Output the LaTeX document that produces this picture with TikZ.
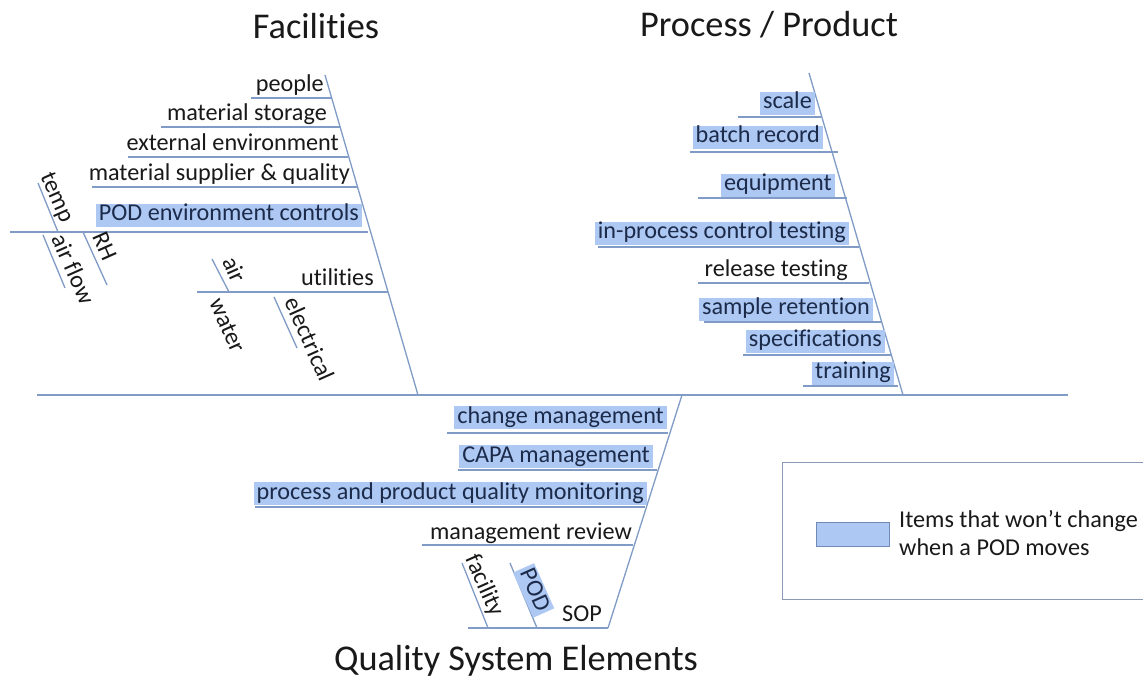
\documentclass[tikz,border=0pt]{standalone}
\usepackage{fontspec}
\setmainfont{Carlito}[Ligatures=NoCommon]
\usepackage{tikz}
\definecolor{boneblue}{HTML}{7F9BC6}
\definecolor{keepblue}{HTML}{ADC8F3}
\definecolor{keepedge}{HTML}{6F8BB5}
\definecolor{keeptext}{HTML}{1C2B4A}
\definecolor{framegray}{HTML}{8A9AB5}
\usetikzlibrary{positioning}
\tikzstyle{bone} = [draw=boneblue, line width=1.3pt]

\begin{document}
\begin{tikzpicture}[x=1pt, y=-1pt]
                    \tikzstyle{every node}=[font=\fontsize{24.2}{27.5}\selectfont, text=black!90]
                    \tikzstyle{item} = [text height=16.5pt, text depth=5pt, inner xsep=3pt, inner ysep=0.8pt, anchor=south east]
                    \tikzstyle{keep} = [item, fill=keepblue, text=keeptext]
                    \tikzstyle{twig} = [item, rotate=-66]
                    \tikzstyle{title} = [font=\fontsize{36.3}{40}\selectfont, anchor=base]

                    \useasboundingbox[fill=white] (0,0) rectangle (1143,684);

                    % spine and the three heads
                    \coordinate (tail) at (37,395);
                    \coordinate (head) at (1068,395);
                    \coordinate (fac top) at (325,75);
                    \coordinate (fac end) at (418,395);
                    \coordinate (pp top) at (809,73);
                    \coordinate (pp end) at (903,395);
                    \coordinate (qse top) at (682,395);
                    \coordinate (qse end) at (608,628);
                    \draw[bone] (tail) -- (head);
                    \draw[bone] (fac top) -- (fac end);
                    \draw[bone] (pp top) -- (pp end);
                    \draw[bone] (qse top) -- (qse end);

                    \node[title](fac) at (316,39) {Facilities};
                    \node[title](pp) at (769,37) {Process / Product};
                    \node[title](qse) at (516,670) {Quality System Elements};

                    % Facilities
                    \draw[bone] (251,98) -- (332,98);
                    \draw[bone] (161,127) -- (340,127);
                    \draw[bone] (128,157) -- (348,157);
                    \draw[bone] (92,187) -- (357,187);
                    \draw[bone] (10,232) -- (368,232);
                    \draw[bone] (197,292) -- (388,292);
                    \draw[bone] (38,183) -- (58,232);
                    \draw[bone] (83,232) -- (107,285);
                    \draw[bone] (43,235) -- (65,288);
                    \draw[bone] (212,259) -- (229,292);
                    \draw[bone] (274,297) -- (297,348);
                    \node[item](people) at (327,98) {people};
                    \node[item](storage) at (330,127) {material storage};
                    \node[item](extenv) at (342,157) {external environment};
                    \node[item](supplier) at (353,187) {material supplier \& quality};
                    \node[keep](envctrl) at (362,227) {POD environment controls};
                    \node[item](utilities) at (377,292) {utilities};
                    \node[twig](temp) at (57,229) {temp};
                    \node[twig, anchor=south west](rh) at (85,236) {RH};
                    \node[twig, anchor=south west](airflow) at (44,238) {air flow};
                    \node[twig](air) at (228,290) {air};
                    \node[twig, anchor=south west](water) at (202,302) {water};
                    \node[twig, anchor=south west](electrical) at (277,301) {electrical};

                    % Process / Product
                    \draw[bone] (738,117) -- (821,117);
                    \draw[bone] (690,152) -- (838,152);
                    \draw[bone] (698,198) -- (847,198);
                    \draw[bone] (598,247) -- (859,247);
                    \draw[bone] (698,283) -- (869,283);
                    \draw[bone] (704,322) -- (882,322);
                    \draw[bone] (743,355) -- (892,355);
                    \draw[bone] (803,386) -- (898,386);
                    \node[keep](scale) at (815,115) {scale};
                    \node[keep](batch) at (823,149) {batch record};
                    \node[keep](equipment) at (835,197) {equipment};
                    \node[keep](ipc) at (849,245) {in-process control testing};
                    \node[item](release) at (851,283) {release testing};
                    \node[keep](retention) at (873,321) {sample retention};
                    \node[keep](specs) at (885,353) {specifications};
                    \node[keep](training) at (894,385) {training};

                    % Quality System Elements
                    \draw[bone] (447,433) -- (668,433);
                    \draw[bone] (458,470) -- (657,470);
                    \draw[bone] (255,507) -- (645,507);
                    \draw[bone] (422,545) -- (633,545);
                    \draw[bone] (468,628) -- (qse end);
                    \draw[bone] (462,563) -- (488,628);
                    \draw[bone] (510,563) -- (537,628);
                    \node[keep](change) at (667,429) {change management};
                    \node[keep](capa) at (653,468) {CAPA management};
                    \node[keep](monitoring) at (647,505) {process and product quality monitoring};
                    \node[item](review) at (635,545) {management review};
                    \node[twig](facility) at (487,623) {facility};
                    \node[keep, rotate=-66](pod) at (533,618) {POD};
                    \node[item](sop) at (605,627) {SOP};

                    % legend
                    \node[draw=framegray, line width=1pt, minimum width=380pt, minimum height=137pt, anchor=north west](legend) at (782,462) {};
                    \node[draw=keepedge, line width=1pt, fill=keepblue, minimum width=73pt, minimum height=24pt, anchor=west](swatch) at (816,534) {};
                    \node[align=left, anchor=west, inner sep=0pt](legendtext) at (899,533) {Items that won’t change\\when a POD moves};
            \end{tikzpicture}
\end{document}
